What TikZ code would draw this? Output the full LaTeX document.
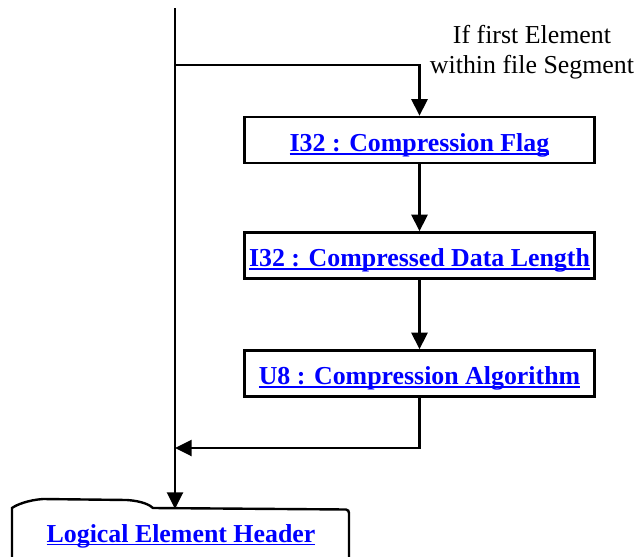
\documentclass[tikz,border=0pt]{standalone}
\usepackage{fontspec}
\setmainfont{Liberation Serif}
\usetikzlibrary{arrows.meta}
\definecolor{linkblue}{RGB}{0,0,255}
% hyperlink-style text: blue with a thick underline
\newcommand\linktext[1]{\setbox0\hbox{#1}\rlap{\color{linkblue}\rule[-2.6pt]{\wd0}{1.4pt}}\box0}
\tikzset{
  fieldbox/.style={draw, line width=1.8pt, minimum width=262.5pt, minimum height=34.5pt,
    inner sep=0pt, text height=17pt, text depth=0pt,
    font=\fontsize{19.4}{22}\selectfont\bfseries, text=linkblue},
  linkfont/.style={font=\fontsize{19.4}{22}\selectfont\bfseries, text=linkblue, inner sep=0pt},
  note/.style={font=\fontsize{19.4}{22.5}\selectfont, align=center, inner sep=0pt},
  wire/.style={line width=1.8pt},
  flow/.style={line width=1.8pt, -{Triangle[length=12.5pt,width=12pt]}}
}
\begin{document}
\begin{tikzpicture}[x=0.75pt, y=-0.75pt]
\useasboundingbox (0,0) rectangle (636,557);

% field boxes
\node[fieldbox] (flag) at (419.5,140) {\linktext{I32 : Compression Flag}};
\node[fieldbox] (len)  at (419.5,255.5) {\linktext{I32 : Compressed Data Length}};
\node[fieldbox] (alg)  at (419.5,373.5) {\linktext{U8 : Compression Algorithm}};

% condition label (base anchor sits on the last line)
\node[note, anchor=base] (cond) at (532,73) {If first Element\\within file Segment};

% main flow line and branch points
\coordinate (start) at (175,8);
\coordinate (split) at (175,65);
\coordinate (join)  at (175,448);
\coordinate (hdrtop) at (175,509);

% header block (tabbed outline, continues below)
\draw[wire] (12,565) -- (12,508)
  .. controls (16,505) and (28,500) .. (43,499) -- (127,500)
  .. controls (142,501) and (150,505) .. (153,508) -- (346,509.5)
  .. controls (348,510) and (349,511) .. (349,513) -- (349,565);
\node[linkfont, anchor=base] (hdr) at (181,542) {\linktext{Logical Element Header}};

% connectors
\draw[flow] (start) -- (hdrtop);
\draw[flow] (split) -| (flag.north);
\draw[flow] (flag) -- (len);
\draw[flow] (len) -- (alg);
\draw[flow] (alg.south) |- (join);
\end{tikzpicture}
\end{document}
